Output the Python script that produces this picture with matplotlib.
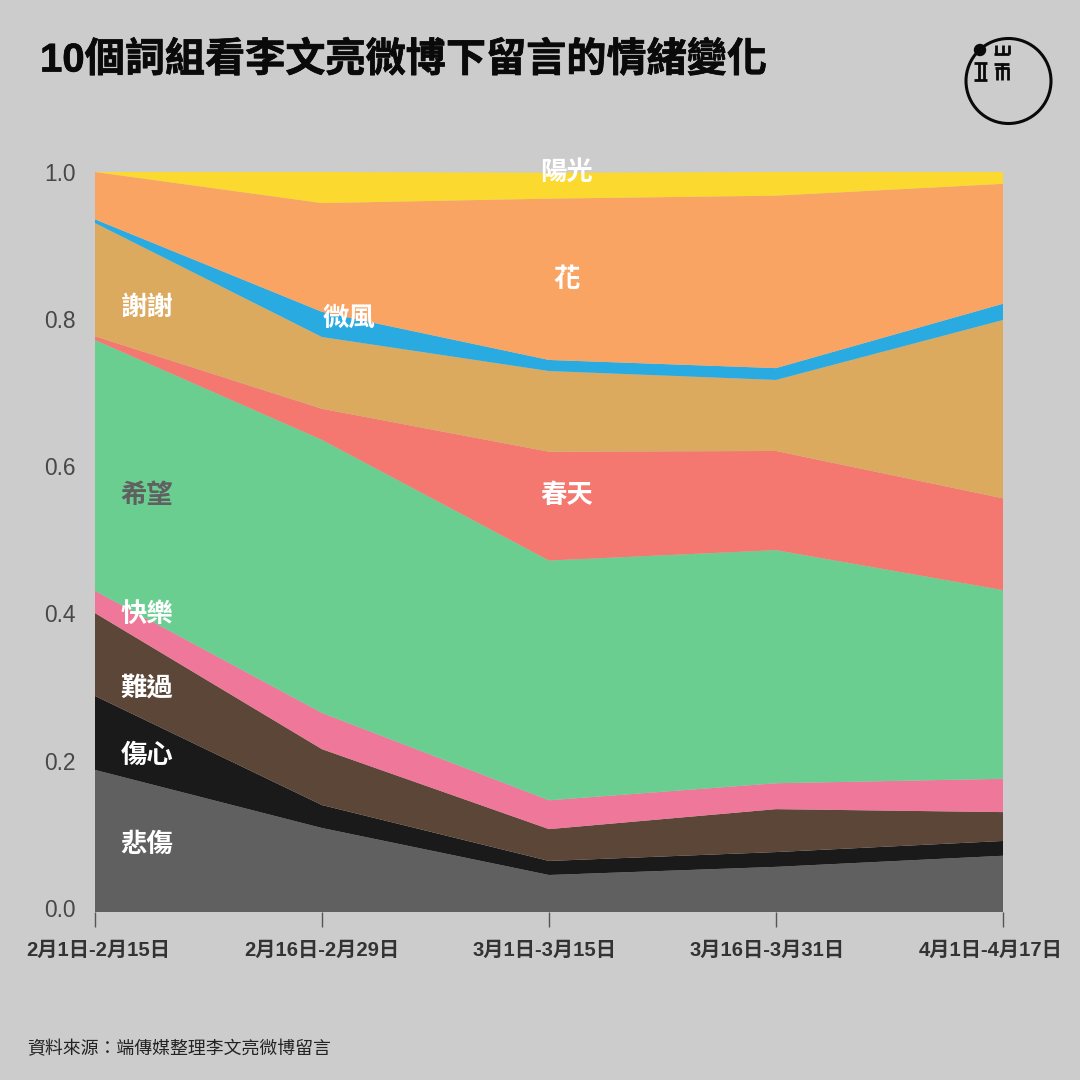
# stacked share of comment keywords under Li Wenliang's weibo
import matplotlib
matplotlib.use("Agg")
import matplotlib.pyplot as plt
import matplotlib.patheffects as pe
from matplotlib.patches import Circle
from matplotlib.transforms import ScaledTranslation

plt.rcParams['font.family'] = ['Liberation Sans', 'Noto Sans CJK TC', 'DejaVu Sans']

periods = ['2月1日-2月15日', '2月16日-2月29日', '3月1日-3月15日', '3月16日-3月31日', '4月1日-4月17日']

# share of each word (bottom of the stack first)
beishang = [0.192, 0.1135, 0.050, 0.061, 0.076]
shangxin = [0.100, 0.031, 0.019, 0.020, 0.020]
nanguo = [0.112, 0.0755, 0.043, 0.058, 0.039]
kuaile = [0.030, 0.049, 0.039, 0.035, 0.045]
xiwang = [0.339, 0.369, 0.324, 0.315, 0.255]
chuntian = [0.005, 0.042, 0.147, 0.134, 0.124]
xiexie = [0.153, 0.097, 0.109, 0.096, 0.241]
weifeng = [0.005, 0.034, 0.015, 0.016, 0.022]
hua = [0.064, 0.147, 0.218, 0.233, 0.162]
yangguang = [0.000, 0.042, 0.035, 0.032, 0.016]

series = [beishang, shangxin, nanguo, kuaile, xiwang, chuntian, xiexie, weifeng, hua, yangguang]
colors = ['#606060', '#1a1a1a', '#5b4638', '#ef7799', '#6ace91',
          '#f47770', '#dcaa5e', '#29abe2', '#faa464', '#fbd92f']
bg = '#cccccc'

fig = plt.figure(figsize=(10.8, 10.8), dpi=100, facecolor=bg)
ax = fig.add_axes([95 / 1080, 168 / 1080, 908 / 1080, 740 / 1080], facecolor=bg)

x = list(range(len(periods)))
ax.stackplot(x, series, colors=colors, linewidth=0)
ax.set_xlim(0, 4)
ax.set_ylim(0, 1)
for s in ax.spines.values():
    s.set_visible(False)

ax.set_xticks(x)
ax.set_xticklabels(periods, fontsize=14.6, fontweight='bold', color='#333333')
ax.tick_params(axis='x', length=11, width=1, color='#555555', pad=10)
ax.set_yticks([0, 0.2, 0.4, 0.6, 0.8, 1.0])
ax.tick_params(axis='y', length=0, pad=14, labelsize=16.4, labelcolor='#484848')

# tick labels in the original do not sit exactly on their ticks, nudge them (pixels)
xlabel_shift = [3, 0, -4, -9, -12]
for lab, dx in zip(ax.get_xticklabels(), xlabel_shift):
    lab.set_transform(lab.get_transform() + ScaledTranslation(dx / 100, 0, fig.dpi_scale_trans))
ylabel_shift = [4, 3, 3, 2, 1, 0]
for lab, dy in zip(ax.get_yticklabels(), ylabel_shift):
    lab.set_transform(lab.get_transform() + ScaledTranslation(0, dy / 100, fig.dpi_scale_trans))

# word labels sit on the areas
labels = [('悲傷', 0.229, 0.091, 'white'), ('傷心', 0.229, 0.212, 'white'),
          ('難過', 0.229, 0.302, 'white'), ('快樂', 0.229, 0.402, 'white'),
          ('希望', 0.229, 0.563, '#606060'), ('春天', 2.079, 0.563, 'white'),
          ('謝謝', 0.229, 0.816, 'white'), ('微風', 1.119, 0.801, 'white'),
          ('花', 2.079, 0.855, 'white'), ('陽光', 2.079, 1.000, 'white')]
for word, lx, ly, c in labels:
    ax.text(lx, ly, word, ha='center', va='center', fontsize=19,
            fontweight='bold', color=c, clip_on=False)

title = fig.text(40 / 1080, 1 - 60 / 1080, '10個詞組看李文亮微博下留言的情緒變化', fontsize=28.9,
                 fontweight='bold', color='#0a0a0a', va='center')
title.set_path_effects([pe.withStroke(linewidth=0.5, foreground='#0a0a0a')])
fig.text(27 / 1080, 1 - 1050 / 1080, '資料來源\uff1a端傳媒整理李文亮微博留言', fontsize=12.9,
         color='#222222', va='center')

# logo drawn in pixel coordinates on a full figure overlay
logo = fig.add_axes([0, 0, 1, 1], facecolor='none')
logo.set_xlim(0, 1080)
logo.set_ylim(1080, 0)
logo.axis('off')
logo.add_patch(Circle((1008.5, 81), 42.5, fill=False, edgecolor='#0a0a0a', linewidth=2.2))
logo.add_patch(Circle((980, 50), 5.5, color='#0a0a0a'))
strokes = [
    ([994, 1009], [54, 54]), ([996, 996], [45, 54]), ([1002.5, 1002.5], [45, 54]), ([1008.5, 1008.5], [45, 54]),
    ([974, 987], [63, 63]), ([974, 987], [80, 80]), ([978.5, 978.5], [63, 80]), ([983.5, 983.5], [63, 80]),
    ([994, 1009], [63.5, 63.5]), ([995, 1009], [68, 68]), ([996.5, 996.5], [68, 80]),
    ([1002, 1002], [63, 80]), ([1007.5, 1007.5], [68, 80]),
]
for sx, sy in strokes:
    logo.plot(sx, sy, color='#0a0a0a', linewidth=2, solid_capstyle='butt')

plt.savefig('out.png', dpi=100, facecolor=bg)
